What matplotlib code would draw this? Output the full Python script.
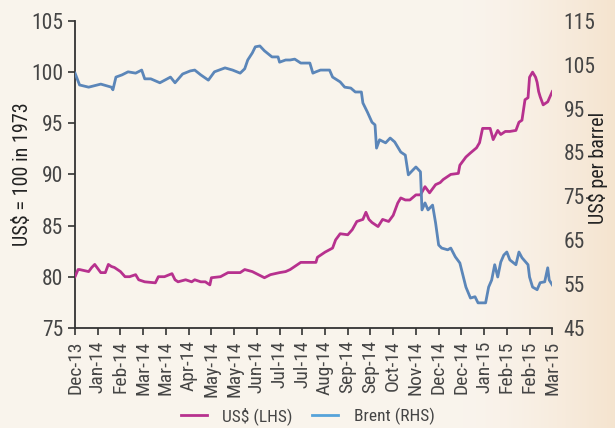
import numpy as np
import matplotlib
matplotlib.use("Agg")
from matplotlib import pyplot as plt
from matplotlib.lines import Line2D

# trading-day index and values
usd_day = [0, 2, 3, 9, 11, 13, 17, 20, 22, 24, 26, 30, 33, 36, 40, 42, 46, 53, 55, 59,
           64, 66, 68, 73, 77, 79, 83, 86, 89, 90, 96, 101, 109, 112, 117, 121, 125, 129,
           135, 139, 142, 145, 149, 152, 155, 159, 160, 163, 165, 170, 172, 175, 180, 183,
           186, 190, 192, 194, 196, 200, 203, 207, 210, 213, 215, 218, 221, 225, 228, 231,
           234, 238, 241, 243, 248, 253, 254, 258, 261, 265, 267, 269, 274, 276, 279, 281,
           284, 287, 291, 293, 295, 297, 299, 300, 302, 304, 305, 306, 307, 309, 312, 315]
usd_val = [80.0, 80.7, 80.7, 80.5, 80.9, 81.2, 80.4, 80.4, 81.2, 81.0, 80.9, 80.5, 80.0,
           80.0, 80.2, 79.7, 79.5, 79.4, 80.0, 80.0, 80.3, 79.7, 79.5, 79.7, 79.5, 79.7,
           79.5, 79.5, 79.2, 79.9, 80.0, 80.4, 80.4, 80.7, 80.5, 80.2, 79.9, 80.2, 80.4,
           80.5, 80.7, 81.0, 81.4, 81.4, 81.4, 81.4, 81.9, 82.2, 82.4, 82.8, 83.6, 84.2,
           84.1, 84.6, 85.4, 85.6, 86.3, 85.6, 85.3, 84.9, 85.6, 85.4, 86.0, 87.2, 87.7,
           87.5, 87.5, 88.0, 88.0, 88.8, 88.2, 89.0, 89.2, 89.5, 90.0, 90.1, 90.9, 91.7,
           92.1, 92.6, 93.1, 94.5, 94.5, 93.4, 94.3, 93.9, 94.2, 94.2, 94.3, 95.1, 95.3,
           97.3, 97.5, 99.5, 100.0, 99.5, 99.0, 98.1, 97.6, 96.8, 97.1, 98.1]

brent_day = [0, 3, 9, 17, 24, 25, 27, 31, 35, 40, 44, 46, 50, 56, 63, 66, 71, 76, 79, 83,
             88, 92, 99, 104, 109, 112, 114, 117, 119, 122, 125, 130, 134, 135, 139, 142,
             145, 149, 155, 157, 159, 162, 168, 170, 175, 178, 182, 185, 189, 190, 193, 196,
             198, 199, 201, 205, 208, 211, 215, 218, 220, 223, 225, 228, 229, 231, 233, 236,
             238, 240, 242, 246, 248, 251, 254, 258, 261, 264, 266, 271, 273, 275, 277, 279,
             281, 283, 285, 287, 291, 293, 295, 299, 300, 302, 305, 307, 310, 312, 313, 315]
brent_val = [103.1, 100.4, 99.9, 100.6, 99.9, 99.3, 102.2, 102.7, 103.4, 103.1, 103.8,
             101.8, 101.8, 100.9, 102.2, 100.9, 102.9, 103.6, 103.8, 102.7, 101.5, 103.4,
             104.3, 103.8, 103.1, 104.1, 106.1, 107.7, 109.1, 109.3, 108.2, 106.8, 106.8,
             105.6, 106.1, 106.1, 106.3, 105.4, 105.4, 103.1, 103.4, 103.8, 103.8, 102.2,
             101.1, 99.9, 99.7, 98.8, 98.8, 96.3, 94.2, 91.9, 91.3, 86.0, 87.9, 87.2, 88.3,
             87.4, 85.1, 84.4, 79.9, 81.0, 81.7, 80.6, 71.9, 73.5, 71.9, 73.0, 68.9, 63.9,
             63.2, 62.8, 63.2, 61.2, 59.8, 54.3, 51.8, 52.1, 50.7, 50.7, 54.3, 55.9, 59.4,
             56.6, 60.0, 61.6, 62.3, 60.5, 59.4, 62.3, 61.0, 59.4, 56.6, 54.3, 53.7, 55.3,
             55.5, 58.7, 55.9, 54.8]

tick_labels = ["Dec-13", "Jan-14", "Feb-14", "Mar-14", "Mar-14", "Apr-14", "May-14",
               "May-14", "Jun-14", "Jul-14", "Jul-14", "Aug-14", "Sep-14", "Sep-14",
               "Oct-14", "Nov-14", "Dec-14", "Dec-14", "Jan-15", "Feb-15", "Feb-15",
               "Mar-15"]

pink = "#B7318E"
blue = "#5B86B9"
txt = "#454545"
plt.rcParams["font.family"] = ["Roboto Condensed", "Open Sans Condensed",
                               "Liberation Sans Narrow", "DejaVu Sans"]
plt.rcParams["font.stretch"] = "condensed"

fig = plt.figure(figsize=(6.15, 4.28), dpi=100)

# cream background, a little darker at the right edge
bg = fig.add_axes([0, 0, 1, 1], zorder=-5)
g = np.linspace(0, 1, 300)
shade = np.clip((g - 0.75) / 0.25, 0, 1) ** 1.5
c0 = np.array([0.980, 0.957, 0.929])
c1 = np.array([0.960, 0.894, 0.812])
row = c0[None, :] * (1 - shade[:, None]) + c1[None, :] * shade[:, None]
bg.imshow(row[None, :, :], aspect="auto", extent=[0, 1, 0, 1])
bg.axis("off")

ax = fig.add_axes([0.122, 0.234, 0.776, 0.717])
ax.set_facecolor("none")
ax.plot(usd_day, usd_val, color=pink, lw=2.0, zorder=3)
ax.set_ylim(75, 105)
ax.set_yticks(range(75, 106, 5))
ax.set_xlim(0, 315)
ax.set_xticks(range(0, 316, 15))
ax.set_xticklabels(tick_labels, rotation=90)
ax.set_ylabel("US$ = 100 in 1973", fontsize=14.5, color="#222222")
ax.yaxis.set_label_coords(-0.09, 0.5)

ax2 = ax.twinx()
ax2.plot(brent_day, brent_val, color=blue, lw=2.0, zorder=3)
ax2.set_ylim(45, 115)
ax2.set_yticks(range(45, 116, 10))
ax2.set_ylabel("US$ per barrel", fontsize=14.5, color="#222222")
ax2.yaxis.set_label_coords(1.072, 0.52)

for a in (ax, ax2):
    for s in ("top", "right"):
        a.spines[s].set_visible(False)
ax2.spines["left"].set_visible(False)
ax2.spines["bottom"].set_visible(False)
ax.spines["left"].set_color("#333333")
ax.spines["bottom"].set_color("#333333")
ax.spines["left"].set_linewidth(1.3)
ax.spines["bottom"].set_linewidth(1.3)
ax.tick_params(axis="both", colors="#333333", labelcolor=txt, labelsize=15.5,
               length=5, width=1.2, direction="out")
ax.tick_params(axis="x", labelsize=14, pad=4)
ax2.tick_params(axis="y", length=0, labelcolor=txt, labelsize=15.5, pad=8)

handles = [Line2D([], [], color=pink, lw=2.0), Line2D([], [], color="#56A3DA", lw=2.0)]
fig.legend(handles, ["US$ (LHS)", "Brent (RHS)"], loc="lower center",
           bbox_to_anchor=(0.5, -0.03), ncol=2, frameon=False, fontsize=12.5,
           labelcolor=txt, handlelength=1.5, handletextpad=0.9, columnspacing=1.1)

fig.savefig("out.png", dpi=100)
